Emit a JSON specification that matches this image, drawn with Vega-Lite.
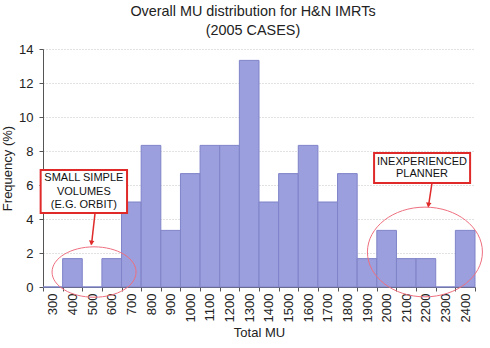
{
  "$schema": "https://vega.github.io/schema/vega-lite/v6.json",
  "width": 432,
  "height": 238,
  "autosize": {"type": "none"},
  "padding": {"left": 43, "top": 49, "right": 15, "bottom": 61},
  "background": "white",
  "config": {
    "font": "Liberation Sans",
    "view": {"stroke": null},
    "axis": {"labelFont": "Liberation Sans", "titleFont": "Liberation Sans", "labelColor": "#222", "titleColor": "#222", "titleFontWeight": "normal", "domainColor": "#555", "tickColor": "#555"}
  },
  "title": {
    "text": ["Overall MU distribution for H&N IMRTs", "(2005 CASES)"],
    "fontSize": 14.4,
    "fontWeight": "normal",
    "color": "#222",
    "lineHeight": 18.5,
    "offset": 5,
    "dx": -6
  },
  "datasets": {
    "hist": [
      {"mu": 300, "freq": 0},
      {"mu": 400, "freq": 1.67},
      {"mu": 500, "freq": 0},
      {"mu": 600, "freq": 1.67},
      {"mu": 700, "freq": 5},
      {"mu": 800, "freq": 8.33},
      {"mu": 900, "freq": 3.33},
      {"mu": 1000, "freq": 6.67},
      {"mu": 1100, "freq": 8.33},
      {"mu": 1200, "freq": 8.33},
      {"mu": 1300, "freq": 13.33},
      {"mu": 1400, "freq": 5},
      {"mu": 1500, "freq": 6.67},
      {"mu": 1600, "freq": 8.33},
      {"mu": 1700, "freq": 5},
      {"mu": 1800, "freq": 6.67},
      {"mu": 1900, "freq": 1.67},
      {"mu": 2000, "freq": 3.33},
      {"mu": 2100, "freq": 1.67},
      {"mu": 2200, "freq": 1.67},
      {"mu": 2300, "freq": 0},
      {"mu": 2400, "freq": 3.33}
    ],
    "boxes": [
      {"ax": 238, "ax2": 678, "freq": 4.35, "freq2": 6.88},
      {"ax": 1936, "ax2": 2425, "freq": 6.12, "freq2": 7.88}
    ],
    "notes": [
      {"ax": 458, "freq": 6.41, "t": "SMALL SIMPLE"},
      {"ax": 458, "freq": 5.59, "t": "VOLUMES"},
      {"ax": 458, "freq": 4.82, "t": "(E.G. ORBIT)"},
      {"ax": 2180, "freq": 7.35, "t": "INEXPERIENCED"},
      {"ax": 2180, "freq": 6.65, "t": "PLANNER"}
    ],
    "arrows": [
      {"ax": 515, "freq": 4.35, "ax2": 497, "freq2": 2.5},
      {"ax": 2231, "freq": 6.12, "ax2": 2213, "freq2": 4.75}
    ],
    "heads": [
      {"ax": 496.5, "freq": 2.59},
      {"ax": 2213, "freq": 4.82}
    ],
    "ell1": [{"ax": 510, "freq": 0.88}],
    "ell2": [{"ax": 2195, "freq": 2.06}]
  },
  "encoding": {
    "y": {
      "field": "freq", "type": "quantitative", "title": "Frequency (%)",
      "scale": {"domain": [0, 14], "nice": false},
      "axis": {"values": [0, 2, 4, 6, 8, 10, 12, 14], "tickCount": 8, "labelOverlap": false, "labelFontSize": 13, "labelPadding": 6, "tickSize": 4, "titleFontSize": 13, "titlePadding": 4, "grid": true, "gridColor": "#c4c4c4", "gridDash": [1, 2], "gridWidth": 1}
    }
  },
  "layer": [
    {
      "data": {"name": "hist"},
      "mark": {"type": "bar", "fill": "#9b9fdd", "stroke": "#7f83c8", "strokeWidth": 1},
      "encoding": {
        "x": {
          "field": "mu", "type": "ordinal", "title": "Total MU",
          "scale": {"paddingInner": 0, "paddingOuter": 0},
          "axis": {"labelAngle": 270, "labelFontSize": 13, "labelPadding": 2, "labelOverlap": false, "tickBand": "extent", "tickSize": 4, "titleFontSize": 13, "titlePadding": 5, "domainColor": "#555", "grid": false}
        }
      }
    },
    {
      "data": {"name": "ell1"},
      "mark": {"type": "point", "shape": "M1,0 C1,0.3314 0.5523,0.6 0,0.6 C-0.5523,0.6 -1,0.3314 -1,0 C-1,-0.3314 -0.5523,-0.6 0,-0.6 C0.5523,-0.6 1,-0.3314 1,0 Z", "size": 7056, "filled": false, "stroke": "#ee6f7f", "strokeWidth": 1, "opacity": 1},
      "encoding": {
        "x": {"field": "ax", "type": "quantitative", "scale": {"domain": [250, 2450], "nice": false, "zero": false}, "axis": null}
      }
    },
    {
      "data": {"name": "ell2"},
      "mark": {"type": "point", "shape": "M1,0 C1,0.4308 0.5523,0.78 0,0.78 C-0.5523,0.78 -1,0.4308 -1,0 C-1,-0.4308 -0.5523,-0.78 0,-0.78 C0.5523,-0.78 1,-0.4308 1,0 Z", "size": 13225, "filled": false, "stroke": "#ee6f7f", "strokeWidth": 1, "opacity": 1},
      "encoding": {
        "x": {"field": "ax", "type": "quantitative", "scale": {"domain": [250, 2450], "nice": false, "zero": false}, "axis": null}
      }
    },
    {
      "data": {"name": "boxes"},
      "mark": {"type": "rect", "fill": "white", "stroke": "#e02a2a", "strokeWidth": 2},
      "encoding": {
        "x": {"field": "ax", "type": "quantitative", "scale": {"domain": [250, 2450], "nice": false, "zero": false}, "axis": null},
        "x2": {"field": "ax2"},
        "y2": {"field": "freq2"}
      }
    },
    {
      "data": {"name": "notes"},
      "mark": {"type": "text", "fontSize": 11, "font": "Liberation Sans", "color": "#111", "align": "center", "baseline": "middle"},
      "encoding": {
        "x": {"field": "ax", "type": "quantitative", "scale": {"domain": [250, 2450], "nice": false, "zero": false}, "axis": null},
        "text": {"field": "t"}
      }
    },
    {
      "data": {"name": "arrows"},
      "mark": {"type": "rule", "color": "#e02a2a", "strokeWidth": 1.5},
      "encoding": {
        "x": {"field": "ax", "type": "quantitative", "scale": {"domain": [250, 2450], "nice": false, "zero": false}, "axis": null},
        "x2": {"field": "ax2"},
        "y2": {"field": "freq2"}
      }
    },
    {
      "data": {"name": "heads"},
      "mark": {"type": "point", "shape": "triangle-down", "size": 30, "filled": true, "color": "#e02a2a", "opacity": 1, "angle": 8},
      "encoding": {
        "x": {"field": "ax", "type": "quantitative", "scale": {"domain": [250, 2450], "nice": false, "zero": false}, "axis": null}
      }
    }
  ],
  "resolve": {"scale": {"x": "independent"}, "axis": {"x": "independent"}}
}
